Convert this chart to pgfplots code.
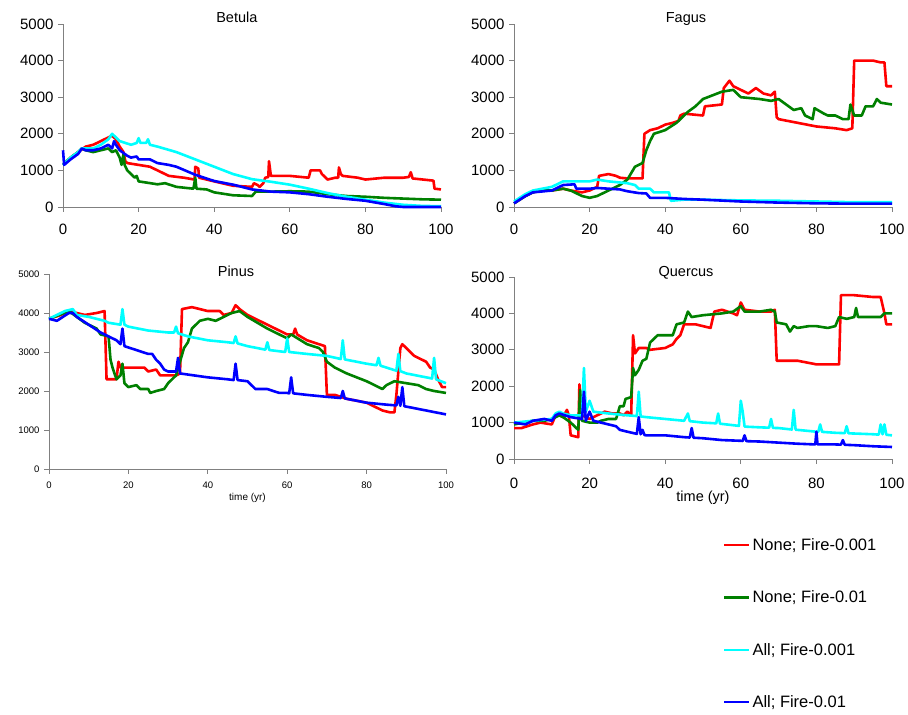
\documentclass[border=0pt]{standalone}
\usepackage{fontspec}
\setmainfont{Liberation Sans}
\usepackage{pgfplots}
\pgfplotsset{compat=1.18}

\definecolor{cred}{RGB}{255,0,0}
\definecolor{cgreen}{RGB}{0,128,0}
\definecolor{ccyan}{RGB}{0,255,255}
\definecolor{cblue}{RGB}{0,0,255}
\definecolor{axgray}{RGB}{128,128,128}

\pgfplotsset{
  panel/.style={
    scale only axis, width=378pt, height=183pt,
    xmin=0, xmax=100, ymin=0, ymax=5000,
    axis x line*=bottom, axis y line*=left,
    axis line style={-, axgray, line width=0.9pt},
    xtick={0,20,...,100}, ytick={0,1000,...,5000},
    minor tick num=0,
    tick align=outside, major tick length=5pt,
    tick style={axgray, line width=0.9pt},
    /pgf/number format/1000 sep={},
    /pgf/number format/assume math mode=true,
    clip=false,
    ticklabel style={font=\fontsize{15}{17}\selectfont},
    yticklabel style={xshift=-1pt},
    title style={font=\fontsize{14.5}{16}\selectfont, anchor=center},
    every axis plot/.append style={line width=2.6pt, line join=round},
    legend image code/.code={\draw[#1, line width=2.3pt] (0pt,0pt) -- (25pt,0pt);},
  }
}

\begin{document}
\begin{tikzpicture}[x=1pt,y=1pt]
\useasboundingbox (0,0) rectangle (908,715);

% ---------- Betula ----------
\begin{axis}[panel, at={(63pt,508pt)}, anchor=south west,
  xticklabel style={yshift=-8pt},
  title={Betula}, title style={at={(0.46,1)}, yshift=1pt}]
\addplot[cred] coordinates {
(0,1150)(2,1350)(4,1500)(6,1650)(8,1700)(10,1800)(12,1900)(13,1950)(14,1850)(15,1650)
(16,1500)(16.5,1250)(17,1200)(20,1150)(23,1100)(25,1000)(28,850)(32,800)(34.8,750)(35,1100)
(35.8,1050)(36,800)(40,700)(45,580)(50,550)(50.5,650)(51.5,600)(52,550)(53,650)(53.5,800)
(54.3,820)(54.5,1250)(55,850)(60,850)(65,800)(65.5,1000)(68,1000)(68.5,900)(70,750)(72,800)
(72.8,800)(73,1080)(73.5,900)(74,850)(78,800)(80,750)(85,800)(90,800)(91.5,820)(92,950)
(92.5,780)(98,720)(98.3,500)(100,480)};
\addplot[cgreen] coordinates {
(0,1150)(2,1350)(4,1500)(5,1600)(6,1550)(8,1500)(10,1550)(12,1600)(13,1500)(14,1550)
(15,1350)(15.5,1150)(16,1450)(16.3,1150)(17,1000)(19,800)(19.5,850)(20,700)(25,620)(27,650)
(30,550)(34.5,500)(35,800)(35.3,500)(38,480)(40,400)(45,320)(50,300)(51,420)(55,420)
(60,430)(65,420)(70,350)(75,300)(80,280)(85,250)(90,230)(95,210)(100,200)};
\addplot[ccyan] coordinates {
(0,1150)(2,1350)(4,1500)(5,1600)(8,1600)(10,1700)(12,1850)(13,2000)(13.5,1950)(15,1800)
(18,1700)(19.5,1750)(20,1880)(20.5,1750)(22,1750)(22.5,1850)(23,1700)(25,1650)(30,1500)
(35,1300)(40,1100)(45,900)(50,760)(55,690)(60,610)(65,500)(70,380)(75,280)(80,200)
(85,120)(90,60)(95,30)(100,20)};
\addplot[cblue] coordinates {
(0,1550)(0.3,1150)(2,1300)(4,1450)(5,1600)(6,1550)(8,1550)(10,1600)(11,1650)(12,1700)
(13,1600)(13.5,1800)(14,1700)(15,1550)(17,1400)(18,1350)(19.5,1380)(20,1300)(23,1300)
(25,1200)(28,1150)(30,1100)(35,880)(40,710)(45,610)(50,480)(55,420)(60,400)(65,350)
(70,280)(75,220)(80,170)(85,80)(88,20)(90,0)(100,0)};
\end{axis}

% ---------- Fagus ----------
\begin{axis}[panel, at={(514pt,508pt)}, anchor=south west,
  xticklabel style={yshift=-8pt},
  title={Fagus}, title style={at={(0.455,1)}, yshift=-1pt}]
\addplot[cred] coordinates {
(0,100)(3,300)(5,400)(7,450)(10,450)(13,500)(15,450)(18,400)(20,450)(22,550)
(22.5,850)(25,900)(27,850)(28,800)(30,780)(34,780)(34.5,2000)(36,2100)(38,2150)(40,2250)
(42,2300)(43.5,2350)(44,2500)(45,2550)(50,2500)(50.5,2750)(55,2800)(55.5,3250)(57,3450)(58,3300)
(60,3200)(62,3100)(64,3250)(66,3100)(68,3050)(69,3150)(69.5,2450)(70,2400)(75,2300)(80,2200)
(85,2150)(88,2100)(89.5,2150)(90,4000)(95,4000)(97,3950)(98,3950)(98.5,3300)(100,3300)};
\addplot[cgreen] coordinates {
(0,100)(3,300)(5,400)(7,450)(10,450)(13,500)(15,450)(18,300)(20,250)(22,300)
(25,450)(28,600)(30,750)(32,1100)(34,1200)(35,1550)(36,1800)(37,2000)(40,2100)(43,2300)
(46,2600)(48,2750)(50,2950)(55,3150)(58,3200)(60,3000)(65,2950)(68,2900)(70,2950)(72,2800)
(74,2650)(76,2700)(77,2500)(79,2400)(79.5,2700)(82,2550)(83,2500)(85,2500)(87,2400)(88.5,2400)
(89,2800)(90,2500)(92,2500)(93,2750)(95,2750)(96,2950)(97,2850)(100,2800)};
\addplot[ccyan] coordinates {
(0,150)(3,350)(5,450)(10,550)(13,700)(17,700)(20,700)(22,750)(25,700)(30,650)
(32,600)(33,500)(36,500)(37,400)(41,400)(41.5,170)(45,200)(50,200)(60,180)(70,170)
(80,150)(90,130)(100,130)};
\addplot[cblue] coordinates {
(0,100)(3,300)(5,400)(10,450)(13,600)(16,620)(16.5,500)(20,500)(22,520)(25,500)
(28,480)(30,430)(33,380)(35,370)(36,250)(40,250)(45,220)(50,200)(60,150)(70,120)
(80,100)(90,90)(100,90)};
\end{axis}

% ---------- Pinus ----------
\begin{axis}[panel, at={(49pt,246pt)}, anchor=south west, width=397pt, height=195pt,
  ticklabel style={font=\fontsize{9.5}{11}\selectfont},
  xticklabel style={yshift=-4pt},
  xlabel={time (yr)}, xlabel style={font=\fontsize{10}{12}\selectfont, at={(0.5,0)}, anchor=center, yshift=-29pt},
  title={Pinus}, title style={at={(0.471,1)}, yshift=-3pt}]
\addplot[cred] coordinates {
(0,3850)(3,3950)(5,4050)(7,4000)(9,3950)(12,4000)(14,4050)(14.5,2300)(17,2300)(17.5,2750)
(18,2600)(22,2600)(24,2600)(25,2500)(27,2550)(28,2400)(32,2400)(33,2450)(33.5,4100)(36,4150)
(40,4050)(43,4050)(44,3950)(46,4000)(47,4200)(48,4100)(50,3950)(55,3700)(60,3450)(61.5,3450)
(62,3600)(62.5,3450)(65,3300)(68,3200)(69.5,3150)(70,1900)(72,1900)(75,1800)(80,1700)(82,1600)
(84,1500)(86,1450)(87,1450)(87.5,1900)(88.5,3100)(89,3200)(90,3100)(92,2900)(95,2750)(96,2600)
(97,2550)(98,2300)(99,2100)(100,2100)};
\addplot[cgreen] coordinates {
(0,3850)(5,4050)(7,3900)(9,3750)(12,3600)(13,3450)(15,3400)(15.5,2800)(16,2600)(17,2300)
(18,2400)(18.5,2700)(19,2200)(20,2100)(22,2150)(23,2050)(25,2050)(25.5,1950)(27,2000)(29,2050)
(30,2200)(31,2300)(32,2400)(33,2750)(34,3100)(35,3250)(36,3600)(38,3800)(40,3850)(42,3800)
(44,3900)(46,4000)(48,4050)(50,3900)(55,3600)(60,3350)(61,3450)(65,3200)(68,3100)(69,3000)
(70,2750)(72,2600)(75,2450)(80,2250)(83,2100)(84,2050)(85,2150)(87,2250)(90,2200)(93,2150)
(95,2050)(97,2000)(100,1950)};
\addplot[ccyan] coordinates {
(0,3850)(2,3950)(4,4050)(6,4100)(7,3950)(10,3900)(14,3800)(15,3750)(18,3700)(18.5,4100)
(19,3700)(20,3650)(25,3550)(30,3500)(31.5,3500)(32,3650)(32.5,3480)(35,3400)(40,3300)(45,3250)
(46.5,3230)(47,3400)(47.5,3220)(50,3150)(54.5,3060)(55,3250)(55.5,3050)(59.5,3000)(60,3350)(60.5,3000)
(65,2950)(70,2900)(73.5,2820)(74,3300)(74.5,2810)(75,2800)(80,2700)(82.5,2660)(83,2850)(83.5,2650)
(85,2600)(87.5,2520)(88,2950)(88.5,2510)(90,2450)(95,2350)(96.5,2320)(97,2850)(97.5,2300)(100,2200)};
\addplot[cblue] coordinates {
(0,3850)(2,3800)(5,4000)(6,4000)(7,3900)(10,3700)(13,3500)(15,3400)(17,3300)(18,3200)
(18.5,3600)(19,3150)(22,3050)(25,2950)(26,2950)(27,2800)(28,2700)(29,2550)(30,2500)(32,2500)
(32.5,2850)(33,2450)(40,2350)(45,2300)(46.5,2280)(47,2700)(47.5,2280)(50,2250)(52,2050)(55,2050)
(58,1950)(60,1950)(60.5,1940)(61,2350)(61.5,1940)(65,1900)(70,1850)(73.5,1820)(74,2000)(74.5,1810)
(75,1800)(80,1700)(85,1650)(87.5,1630)(88,1850)(88.5,1620)(89,2100)(89.5,1610)(90,1600)(95,1500)
(100,1400)};
\end{axis}

% ---------- Quercus ----------
\begin{axis}[panel, at={(514pt,256pt)}, anchor=south west, height=182pt,
  xticklabel style={yshift=-10pt},
  xlabel={time (yr)}, xlabel style={font=\fontsize{14.5}{16}\selectfont, at={(0.5,0)}, anchor=center, yshift=-39pt},
  title={Quercus}, title style={at={(0.455,1)}, yshift=-1.5pt},
  legend style={draw=none, fill=none, at={(0.545,-0.412)}, anchor=north west,
    font=\fontsize{16.5}{19}\selectfont, row sep=35pt, legend cell align=left}]
\addplot[cred] coordinates {
(0,850)(2,850)(5,950)(7,1000)(10,950)(11,1200)(12,1200)(13,1150)(14,1350)(14.5,1200)
(15,650)(17,600)(17.3,2050)(18,1200)(20,1100)(22,1200)(24,1300)(26,1250)(28,1250)(29,1200)
(30,1300)(31,1200)(31.5,3400)(32,2900)(33,3050)(35,3050)(36,3000)(40,3050)(42,3150)(43,3300)
(44,3400)(45,3700)(48,3700)(50,3650)(52,3600)(53,4050)(55,4100)(58,4000)(59,3950)(60,4300)
(61,4100)(65,4050)(68,4050)(69,4100)(69.5,2700)(75,2700)(80,2600)(85,2600)(86,2600)(86.5,4500)
(90,4500)(95,4450)(97,4450)(98,4000)(98.5,3700)(100,3700)};
\addlegendentry{None; Fire-0.001}
\addplot[cgreen] coordinates {
(0,950)(5,1050)(8,1050)(10,1100)(12,1200)(13,1150)(15,1000)(16,900)(17,800)(17.5,1900)
(18,1050)(20,1000)(22,1000)(23,1050)(25,1100)(27,1100)(28,1450)(29,1450)(29.5,1650)(31,1700)
(31.5,2500)(32,2300)(33,2450)(34,2700)(35,2750)(36,3200)(37,3300)(38,3400)(42,3400)(43,3700)
(45,3750)(46,4050)(47,3900)(50,3950)(55,4000)(58,4050)(60,4200)(61,4050)(65,4050)(68,4100)
(69,4050)(69.5,3750)(72,3700)(73,3500)(74,3650)(75,3600)(78,3650)(80,3650)(83,3600)(85,3650)
(86,3900)(88,3850)(90,3900)(90.5,4150)(91,3900)(95,3900)(97,3900)(98,4000)(100,4000)};
\addlegendentry{None; Fire-0.01}
\addplot[ccyan] coordinates {
(0,1000)(5,1050)(10,1100)(11,1250)(12,1300)(13,1250)(15,1200)(18,1200)(18.5,2500)(19,1300)
(20,1600)(21,1300)(25,1250)(30,1200)(32.5,1180)(33,1850)(33.5,1170)(35,1150)(40,1100)(45,1050)
(46,1250)(46.5,1040)(50,1000)(53.5,980)(54,1250)(54.5,970)(59.5,910)(60,1600)(60.5,1300)(61,890)
(65,870)(67.5,860)(68,1100)(68.5,855)(70,850)(73.5,810)(74,1350)(74.5,805)(75,800)(80,750)
(80.5,750)(81,950)(81.5,745)(85,720)(87.5,710)(88,900)(88.5,705)(90,700)(95,680)(96.5,670)
(97,950)(97.5,680)(98,950)(98.5,665)(100,650)};
\addlegendentry{All; Fire-0.001}
\addplot[cblue] coordinates {
(0,1000)(3,950)(5,1050)(8,1100)(10,1050)(11,1200)(12,1250)(15,1150)(18,1100)(18.5,1850)
(19,1050)(20,1300)(21,1050)(25,950)(27,900)(28,800)(30,750)(32.5,690)(33,1150)(33.5,680)
(34,800)(34.5,660)(35,650)(40,650)(45,600)(46.5,590)(47,850)(47.5,585)(50,570)(55,520)
(60,500)(60.5,495)(61,650)(61.5,490)(65,480)(70,450)(75,420)(79.7,400)(80,750)(80.3,400)
(85,400)(86.5,395)(87,520)(87.5,390)(90,380)(95,350)(100,330)};
\addlegendentry{All; Fire-0.01}
\end{axis}
\end{tikzpicture}
\end{document}
